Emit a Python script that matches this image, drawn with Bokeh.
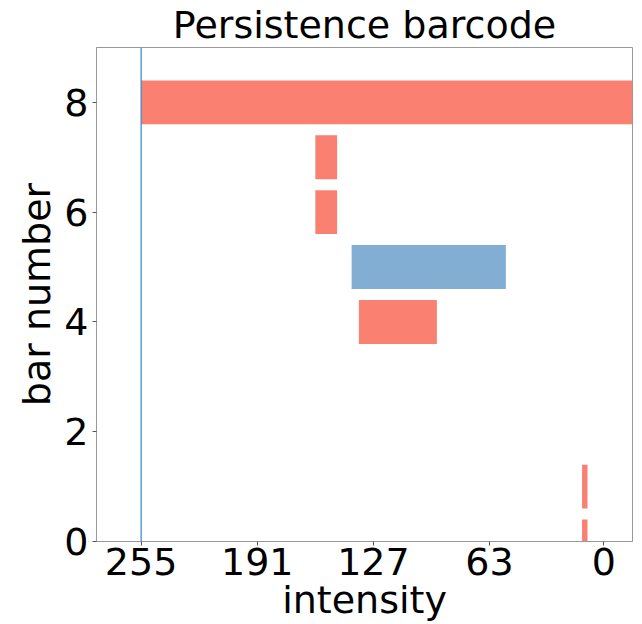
from bokeh.plotting import figure
from bokeh.models import Range1d, FixedTicker, ColumnDataSource, Span
from bokeh.embed import file_html
from bokeh.resources import INLINE

# Data
bar_number = [0, 1, 4, 5, 6, 7, 8]
birth = [12, 12, 135, 139, 159, 159, 255]
death = [9, 9, 92, 54, 147, 147, -20]   # bar 8 is infinite (runs off the plot)
dimension = [0, 0, 0, 1, 0, 0, 0]
x_ticks = [255, 191, 127, 63, 0]
y_ticks = [0, 2, 4, 6, 8]
max_intensity = 255

palette = {0: "#FA8072", 1: "#83AED4"}
colors = [palette[d] for d in dimension]

src = ColumnDataSource(dict(y=bar_number, left=birth, right=death, color=colors))

FONT = "DejaVu Sans"
FS = "38px"

p = figure(width=640, height=624, output_backend="svg", toolbar_location=None,
           x_range=Range1d(279.6, -15.8), y_range=Range1d(0, 9),
           min_border_left=96, min_border_right=8, min_border_bottom=77, min_border_top=0)

p.title.text = "Persistence barcode"
p.title.text_font = FONT
p.title.text_font_size = FS
p.title.text_font_style = "normal"
p.title.text_color = "black"
p.title.align = "center"
p.title.offset = 0
p.title.standoff = 1

p.hbar(y="y", left="left", right="right", height=0.8, color="color", line_color=None, source=src)

p.add_layout(Span(location=max_intensity, dimension="height", line_color="#2f86cf", line_width=1.2))

p.xaxis.ticker = FixedTicker(ticks=x_ticks)
p.yaxis.ticker = FixedTicker(ticks=y_ticks)
p.xaxis.axis_label = "intensity"
p.yaxis.axis_label = "bar number"
for ax in (p.xaxis[0], p.yaxis[0]):
    ax.axis_label_text_font = FONT
    ax.axis_label_text_font_size = FS
    ax.axis_label_text_font_style = "normal"
    ax.axis_label_text_color = "black"
    ax.major_label_text_font = FONT
    ax.major_label_text_font_size = FS
    ax.major_label_text_color = "black"
    ax.axis_line_color = "#999999"
    ax.major_tick_line_color = "#555555"
    ax.major_tick_out = 4
    ax.major_tick_in = 0
    ax.minor_tick_line_color = None
    ax.major_label_standoff = 2
    ax.axis_label_standoff = 0

p.yaxis.major_label_standoff = 4
p.yaxis.axis_label_standoff = 2

p.xgrid.grid_line_color = None
p.ygrid.grid_line_color = None
p.outline_line_color = "#999999"
p.outline_line_width = 1

open("out.html", "w").write(file_html(p, INLINE))
